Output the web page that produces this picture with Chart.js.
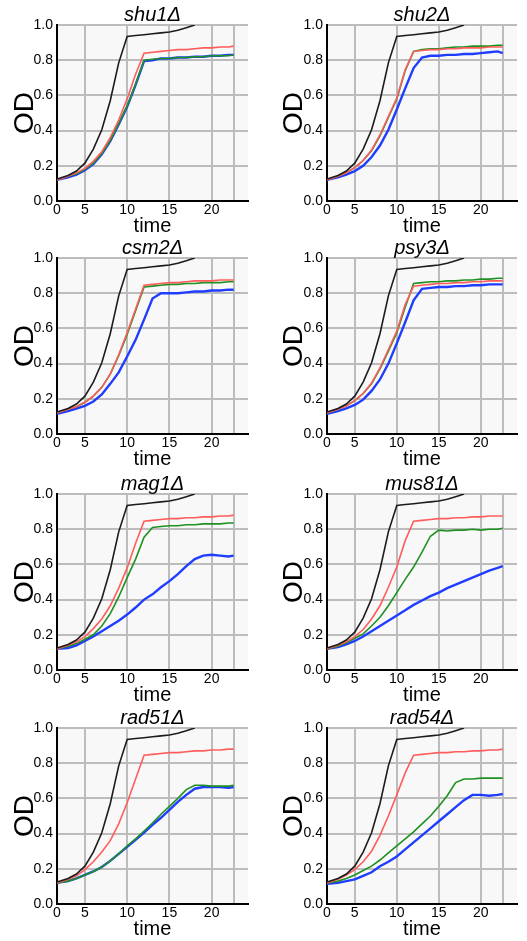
<!DOCTYPE html>
<html>
<head>
<meta charset="utf-8">
<script src="https://cdn.jsdelivr.net/npm/chart.js@4.4.0/dist/chart.umd.min.js"></script>
<style>
body { margin: 0; background: #fff; }
#wrap { position: relative; width: 527px; height: 941px; }
.panel { position: absolute; }
</style>
</head>
<body>
<div id="wrap"></div>
<script>
// time axis (hours), tick positions and their printed labels
const times = [1.7, 3, 4, 5, 6, 7, 8, 9, 10, 11, 12, 13, 14, 15, 16, 17, 18, 19, 20, 21, 22, 22.6]
const xTicks = [1.7, 5, 10, 15, 20, 22.6]
const xTickLabels = ['0', '5', '10', '15', '20', '']

// black curve (same reference strain in every panel)
const wildType = [0.125, 0.145, 0.17, 0.215, 0.295, 0.405, 0.57, 0.785, 0.935, 0.94, 0.945, 0.95, 0.955, 0.96, 0.97, 0.985, 1.0, null, null, null, null, null]

const shu1Red = [0.12, 0.14, 0.16, 0.185, 0.225, 0.28, 0.36, 0.46, 0.58, 0.72, 0.84, 0.845, 0.85, 0.855, 0.86, 0.86, 0.865, 0.87, 0.87, 0.875, 0.875, 0.88]
const shu1Green = [0.12, 0.14, 0.155, 0.18, 0.215, 0.27, 0.345, 0.44, 0.54, 0.665, 0.80, 0.805, 0.81, 0.81, 0.815, 0.815, 0.82, 0.82, 0.825, 0.825, 0.825, 0.83]
const shu1Blue = [0.12, 0.135, 0.15, 0.175, 0.21, 0.265, 0.34, 0.435, 0.535, 0.66, 0.795, 0.80, 0.81, 0.81, 0.815, 0.815, 0.82, 0.82, 0.825, 0.825, 0.83, 0.83]

const shu2Red = [0.12, 0.14, 0.16, 0.19, 0.23, 0.29, 0.375, 0.48, 0.585, 0.745, 0.85, 0.855, 0.86, 0.86, 0.865, 0.865, 0.87, 0.87, 0.87, 0.875, 0.875, 0.875]
const shu2Green = [0.12, 0.14, 0.16, 0.19, 0.23, 0.285, 0.37, 0.475, 0.58, 0.74, 0.85, 0.86, 0.865, 0.865, 0.87, 0.875, 0.875, 0.88, 0.88, 0.88, 0.885, 0.885]
const shu2Blue = [0.12, 0.135, 0.15, 0.17, 0.20, 0.25, 0.315, 0.405, 0.52, 0.64, 0.755, 0.815, 0.825, 0.825, 0.83, 0.83, 0.835, 0.835, 0.84, 0.845, 0.85, 0.84]

const csm2Red = [0.12, 0.14, 0.155, 0.18, 0.215, 0.265, 0.34, 0.45, 0.575, 0.71, 0.845, 0.85, 0.855, 0.86, 0.86, 0.865, 0.87, 0.87, 0.87, 0.875, 0.875, 0.875]
const csm2Green = [0.12, 0.14, 0.155, 0.18, 0.215, 0.265, 0.34, 0.445, 0.565, 0.70, 0.835, 0.84, 0.845, 0.85, 0.85, 0.855, 0.855, 0.86, 0.86, 0.86, 0.865, 0.865]
const csm2Blue = [0.115, 0.13, 0.145, 0.16, 0.185, 0.225, 0.285, 0.35, 0.44, 0.535, 0.65, 0.77, 0.80, 0.80, 0.80, 0.805, 0.81, 0.81, 0.815, 0.815, 0.82, 0.82]

const psy3Red = [0.12, 0.14, 0.16, 0.19, 0.23, 0.29, 0.375, 0.48, 0.585, 0.735, 0.84, 0.845, 0.85, 0.855, 0.855, 0.86, 0.86, 0.865, 0.865, 0.87, 0.87, 0.87]
const psy3Green = [0.12, 0.14, 0.16, 0.19, 0.23, 0.285, 0.37, 0.47, 0.575, 0.72, 0.855, 0.86, 0.865, 0.865, 0.87, 0.87, 0.875, 0.875, 0.88, 0.88, 0.885, 0.885]
const psy3Blue = [0.115, 0.13, 0.145, 0.165, 0.195, 0.245, 0.31, 0.40, 0.515, 0.635, 0.76, 0.825, 0.83, 0.835, 0.835, 0.84, 0.84, 0.845, 0.845, 0.85, 0.85, 0.85]

const mag1Red = [0.12, 0.14, 0.16, 0.19, 0.235, 0.29, 0.365, 0.465, 0.58, 0.72, 0.845, 0.85, 0.855, 0.86, 0.86, 0.865, 0.865, 0.87, 0.87, 0.875, 0.875, 0.88]
const mag1Green = [0.12, 0.135, 0.15, 0.175, 0.20, 0.25, 0.32, 0.415, 0.525, 0.63, 0.755, 0.81, 0.815, 0.82, 0.82, 0.825, 0.825, 0.83, 0.83, 0.83, 0.835, 0.835]
const mag1Blue = [0.12, 0.125, 0.14, 0.165, 0.19, 0.22, 0.25, 0.28, 0.315, 0.355, 0.40, 0.43, 0.47, 0.505, 0.545, 0.59, 0.63, 0.65, 0.655, 0.65, 0.645, 0.65]

const mus81Red = [0.12, 0.14, 0.16, 0.19, 0.23, 0.29, 0.365, 0.47, 0.585, 0.735, 0.845, 0.85, 0.855, 0.86, 0.86, 0.865, 0.865, 0.87, 0.87, 0.875, 0.875, 0.875]
const mus81Green = [0.12, 0.135, 0.155, 0.18, 0.205, 0.25, 0.30, 0.365, 0.44, 0.515, 0.585, 0.67, 0.76, 0.795, 0.79, 0.795, 0.795, 0.80, 0.795, 0.80, 0.80, 0.805]
const mus81Blue = [0.12, 0.13, 0.145, 0.165, 0.19, 0.22, 0.25, 0.28, 0.31, 0.34, 0.37, 0.395, 0.42, 0.44, 0.465, 0.485, 0.505, 0.525, 0.545, 0.565, 0.58, 0.59]

const rad51Red = [0.12, 0.14, 0.16, 0.195, 0.24, 0.295, 0.36, 0.455, 0.575, 0.71, 0.845, 0.85, 0.855, 0.86, 0.86, 0.865, 0.87, 0.87, 0.875, 0.875, 0.88, 0.88]
const rad51Green = [0.12, 0.13, 0.145, 0.165, 0.185, 0.21, 0.245, 0.285, 0.33, 0.37, 0.415, 0.46, 0.51, 0.555, 0.60, 0.65, 0.675, 0.675, 0.67, 0.67, 0.67, 0.675]
const rad51Blue = [0.12, 0.13, 0.145, 0.165, 0.185, 0.21, 0.245, 0.285, 0.325, 0.365, 0.405, 0.45, 0.49, 0.535, 0.58, 0.62, 0.655, 0.665, 0.665, 0.665, 0.66, 0.665]

const rad54Red = [0.12, 0.14, 0.165, 0.195, 0.24, 0.30, 0.39, 0.50, 0.62, 0.745, 0.845, 0.85, 0.855, 0.86, 0.86, 0.865, 0.865, 0.87, 0.87, 0.875, 0.875, 0.88]
const rad54Green = [0.12, 0.13, 0.145, 0.165, 0.19, 0.215, 0.25, 0.29, 0.33, 0.37, 0.41, 0.455, 0.50, 0.555, 0.615, 0.69, 0.71, 0.71, 0.715, 0.715, 0.715, 0.715]
const rad54Blue = [0.115, 0.12, 0.13, 0.14, 0.16, 0.18, 0.215, 0.24, 0.27, 0.31, 0.35, 0.39, 0.43, 0.47, 0.51, 0.55, 0.59, 0.62, 0.62, 0.615, 0.62, 0.625]

const panelNames = ['shu1Δ', 'shu2Δ', 'csm2Δ', 'psy3Δ', 'mag1Δ', 'mus81Δ', 'rad51Δ', 'rad54Δ']
const panelRed = [shu1Red, shu2Red, csm2Red, psy3Red, mag1Red, mus81Red, rad51Red, rad54Red]
const panelGreen = [shu1Green, shu2Green, csm2Green, psy3Green, mag1Green, mus81Green, rad51Green, rad54Green]
const panelBlue = [shu1Blue, shu2Blue, csm2Blue, psy3Blue, mag1Blue, mus81Blue, rad51Blue, rad54Blue]

Chart.defaults.font.family = "Arial, 'Liberation Sans', sans-serif"
Chart.defaults.color = '#000'

const cols = [
	{left: 0, width: 264, axisW: 57, padR: 16, odPad: 11},
	{left: 264, width: 263, axisW: 63, padR: 10, odPad: 16}
]
const rowTops = [0, 233, 469, 703]
const panelH = 236

const plotBg = {
	id: 'plotBg',
	beforeDraw(chart) {
		const {ctx, chartArea: a} = chart
		ctx.save()
		ctx.fillStyle = '#f8f8f8'
		ctx.fillRect(a.left, a.top, a.right - a.left, a.bottom - a.top)
		ctx.restore()
	}
}

function toPoints(vals) {
	return times.map((t, i) => ({x: t, y: vals[i]}))
}

function line(vals, color, width) {
	return {data: toPoints(vals), borderColor: color, borderWidth: width, pointRadius: 0, tension: 0, fill: false}
}

const wrap = document.getElementById('wrap')
panelNames.forEach((name, i) => {
	const col = cols[i % 2]
	const div = document.createElement('div')
	div.className = 'panel'
	div.style.left = col.left + 'px'
	div.style.top = rowTops[Math.floor(i / 2)] + 'px'
	const canvas = document.createElement('canvas')
	canvas.width = col.width
	canvas.height = panelH
	div.appendChild(canvas)
	wrap.appendChild(div)

	new Chart(canvas, {
		type: 'line',
		data: {
			datasets: [
				line(wildType, '#1c1c1c', 1.6),
				line(panelRed[i], '#ff5c5c', 1.6),
				line(panelGreen[i], '#1e9120', 1.6),
				line(panelBlue[i], '#1f3dff', 2.4)
			]
		},
		options: {
			responsive: false,
			animation: false,
			layout: {padding: {left: 0, right: col.padR, top: 0, bottom: 0}},
			plugins: {
				legend: {display: false},
				tooltip: {enabled: false},
				title: {
					display: true, text: name, fullSize: false, color: '#000',
					font: {size: 20, style: 'italic', weight: 'normal', lineHeight: 1},
					padding: {top: 5, bottom: 0}
				}
			},
			scales: {
				x: {
					type: 'linear', min: 1.7, max: 24.3,
					afterBuildTicks: s => { s.ticks = xTicks.map(v => ({value: v})) },
					afterFit: s => { s.height = 35 },
					ticks: {callback: (v, idx) => xTickLabels[idx], font: {size: 14}, padding: 1, maxRotation: 0, autoSkip: false},
					grid: {color: '#bcbcbc', lineWidth: 2, drawTicks: false},
					border: {color: '#000', width: 2},
					title: {display: true, text: 'time', font: {size: 20, lineHeight: 1}, padding: 0}
				},
				y: {
					min: 0, max: 1,
					afterFit: s => { s.width = col.axisW },
					ticks: {stepSize: 0.2, callback: v => v.toFixed(1), font: {size: 14}, padding: 4},
					grid: {color: '#bcbcbc', lineWidth: 2, drawTicks: false},
					border: {color: '#000', width: 2},
					title: {display: true, text: 'OD', font: {size: 28, lineHeight: 1}, padding: {top: col.odPad, bottom: 0}}
				}
			}
		},
		plugins: [plotBg]
	})
})
</script>
</body>
</html>
